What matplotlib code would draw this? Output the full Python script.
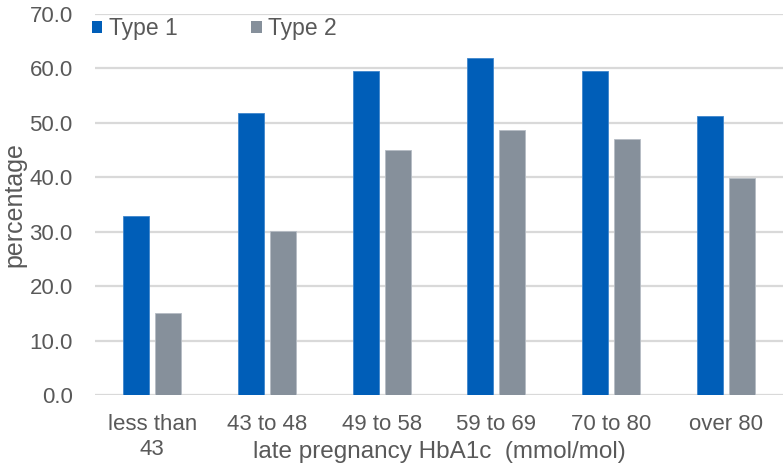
import matplotlib
matplotlib.use("Agg")
import matplotlib.pyplot as plt
import numpy as np
from matplotlib.patches import Patch

categories = ["less than\n43", "43 to 48", "49 to 58", "59 to 69", "70 to 80", "over 80"]
type1 = [32.9, 51.8, 59.5, 62.0, 59.5, 51.3]
type2 = [15.0, 30.2, 45.0, 48.6, 47.0, 39.8]
yticks = [0, 10, 20, 30, 40, 50, 60, 70]

blue = "#005EB8"
grey = "#86909B"
text_grey = "#595959"
grid_grey = "#D9D9D9"

plt.rcParams["font.family"] = ["Liberation Sans", "DejaVu Sans"]

fig = plt.figure(figsize=(7.83, 4.65), dpi=100)
ax = fig.add_axes([95 / 783, 1 - 395 / 465, 1 - 95 / 783, (395 - 14) / 465])

x = np.arange(len(categories))
w = 0.227
off = 0.14
ax.bar(x - off, type1, width=w, color=blue, edgecolor="#3F86CC", linewidth=0.6, zorder=3)
ax.bar(x + off, type2, width=w, color=grey, edgecolor="#B5BCC4", linewidth=0.6, zorder=3)

ax.set_xlim(-0.5, len(categories) - 0.5)
ax.set_ylim(0, 70)
ax.set_yticks(yticks)
ax.set_yticklabels([f"{v:.1f}" for v in yticks])
ax.set_xticks(x)
ax.set_xticklabels(categories, linespacing=1.2)
ax.tick_params(axis="both", length=0, labelsize=16, colors=text_grey)
ax.tick_params(axis="y", pad=16)
ax.tick_params(axis="x", pad=14)
ax.yaxis.grid(True, color=grid_grey, linewidth=1.6, zorder=0)
ax.set_axisbelow(True)
for s in ax.spines.values():
    s.set_visible(False)

ax.set_ylabel("percentage", fontsize=18, color=text_grey)
ax.yaxis.set_label_coords(-0.099, 0.5)
ax.set_xlabel("late pregnancy HbA1c  (mmol/mol)", fontsize=17.5, color=text_grey)
ax.xaxis.set_label_coords(0.5, -0.12)

handles = [Patch(facecolor=blue, edgecolor="none"), Patch(facecolor=grey, edgecolor="none")]
fig.legend(handles, ["Type 1", "Type 2"], ncol=2, frameon=False,
           loc="upper left", bbox_to_anchor=(92 / 783, 1 - 17 / 465),
           fontsize=16.5, labelcolor=text_grey, handlelength=0.45, handleheight=0.45,
           handletextpad=0.3, columnspacing=3.2, borderaxespad=0, borderpad=0)

fig.savefig("out.png", dpi=100, facecolor="white")
